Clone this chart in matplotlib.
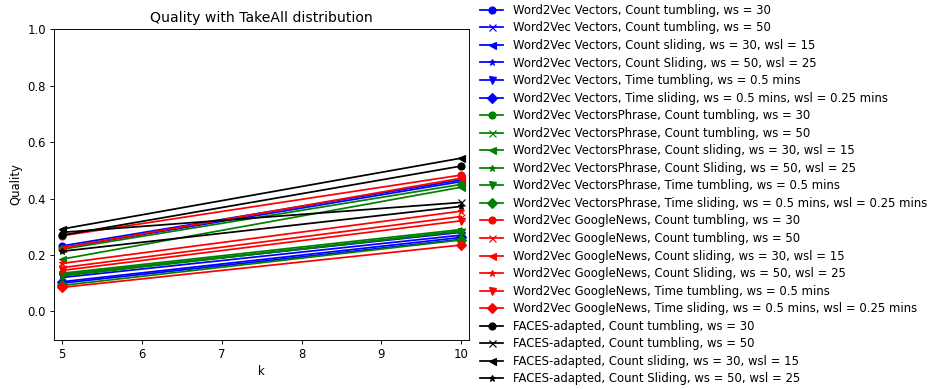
import matplotlib
matplotlib.use('Agg')
import matplotlib.pyplot as plt

k = [5, 10]

# quality at k=5 and k=10 for each setting
settings = ['Count tumbling, ws = 30',
            'Count tumbling, ws = 50',
            'Count sliding, ws = 30, wsl = 15',
            'Count Sliding, ws = 50, wsl = 25',
            'Time tumbling, ws = 0.5 mins',
            'Time sliding, ws = 0.5 mins, wsl = 0.25 mins']
markers = ['o', 'x', '<', '*', 'v', 'D']

vectors = [[0.232, 0.466], [0.100, 0.255], [0.225, 0.460],
           [0.130, 0.280], [0.120, 0.270], [0.105, 0.262]]
vectors_phrase = [[0.220, 0.450], [0.125, 0.285], [0.185, 0.440],
                  [0.135, 0.290], [0.130, 0.283], [0.092, 0.253]]
google_news = [[0.268, 0.483], [0.155, 0.336], [0.225, 0.472],
               [0.170, 0.355], [0.145, 0.321], [0.085, 0.235]]
faces = [[0.270, 0.515], [0.280, 0.386], [0.292, 0.543], [0.213, 0.372]]

groups = [('Word2Vec Vectors', 'b', vectors),
          ('Word2Vec VectorsPhrase', 'g', vectors_phrase),
          ('Word2Vec GoogleNews', 'r', google_news),
          ('FACES-adapted', 'k', faces)]

dpi = 84
fig = plt.figure(figsize=(928 / dpi, 389 / dpi), dpi=dpi)
ax = fig.add_axes([0.0585, 0.1272, 0.4469, 0.7975])

for name, col, vals in groups:
    for i, v in enumerate(vals):
        ax.plot(k, v, color=col, marker=markers[i], label=name + ', ' + settings[i])

ax.set_xlim(4.9, 10.1)
ax.set_ylim(-0.1, 1.0)
ax.set_xlabel('k')
ax.set_ylabel('Quality')
ax.set_title('Quality with TakeAll distribution')
ax.legend(loc='upper left', bbox_to_anchor=(0.506, 1.017), bbox_transform=fig.transFigure,
          frameon=False, labelspacing=0.39)

fig.savefig('out.png', dpi=dpi)
